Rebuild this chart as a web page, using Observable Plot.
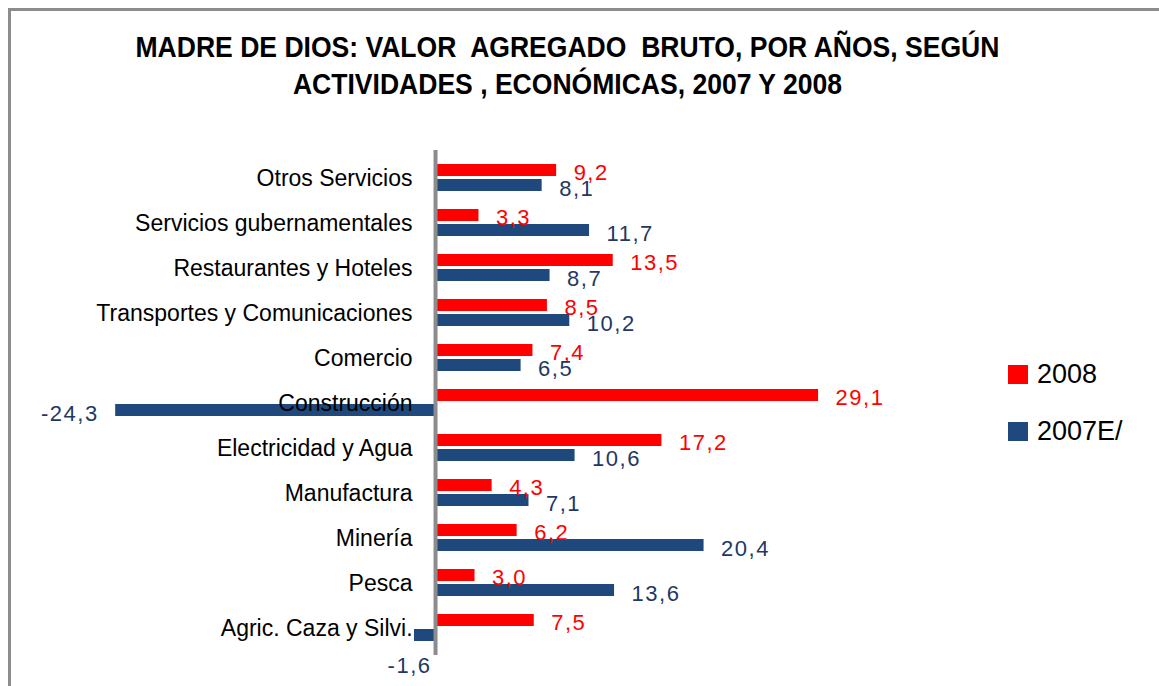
<!DOCTYPE html>
<html>
<head>
<meta charset="utf-8">
<script src="https://cdn.jsdelivr.net/npm/d3@7"></script>
<script src="https://cdn.jsdelivr.net/npm/@observablehq/plot@0.6"></script>
<style>
  html, body { margin: 0; padding: 0; background: #fff; }
  #wrap { position: relative; width: 1159px; height: 686px; overflow: hidden; font-family: "Liberation Sans", Arial, sans-serif; }
  #frame { position: absolute; left: 8px; top: 8px; width: 2000px; height: 2000px; border-left: 3px solid #8c8c8c; border-top: 3px solid #8c8c8c; box-sizing: border-box; }
  #title { position: absolute; left: 0; width: 1135px; top: 29px; text-align: center; font-weight: bold; font-size: 29px; line-height: 37px; color: #000; white-space: pre; transform: scaleX(0.915); transform-origin: 567px 0; }
  #chart { position: absolute; left: 0; top: 0; }
  #chart svg g[font-size="22"] text { letter-spacing: 1.5px; }
  .leg { position: absolute; left: 1008px; font-size: 27px; color: #000; display: flex; align-items: center; }
  .leg span.sw { display: inline-block; width: 20px; height: 19px; margin-right: 9px; }
</style>
</head>
<body>
<div id="wrap">
  <div id="frame"></div>
  <div id="chart"></div>
  <div id="title">MADRE DE DIOS: VALOR  AGREGADO  BRUTO, POR AÑOS, SEGÚN
ACTIVIDADES , ECONÓMICAS, 2007 Y 2008</div>
  <div class="leg" style="top:359px"><span class="sw" style="background:#FF0000"></span>2008</div>
  <div class="leg" style="top:416px"><span class="sw" style="background:#1F497D"></span>2007E/</div>
</div>
<script>
const categories = ["Otros Servicios","Servicios gubernamentales","Restaurantes y Hoteles","Transportes y Comunicaciones","Comercio","Construcción","Electricidad y Agua","Manufactura","Minería","Pesca","Agric. Caza y Silvi."];
const values2008 = [9.2, 3.3, 13.5, 8.5, 7.4, 29.1, 17.2, 4.3, 6.2, 3.0, 7.5];
const values2007 = [8.1, 11.7, 8.7, 10.2, 6.5, -24.3, 10.6, 7.1, 20.4, 13.6, -1.6];
const seriesNames = ["2008", "2007E/"];
const seriesColors = ["#FF0000", "#1F497D"];
const labelColors = ["#FF0000", "#1F3864"];

const rows2008 = categories.map((c, i) => ({cat: c, v: values2008[i]}));
const rows2007 = categories.map((c, i) => ({cat: c, v: values2007[i]}));
const fmt = v => v.toFixed(1).replace(".", ",");
const font = '"Liberation Sans", Arial, sans-serif';

const plot = Plot.plot({
  width: 1159,
  height: 686,
  marginLeft: 0,
  marginRight: 0,
  marginTop: 150,
  marginBottom: 31,
  style: {fontFamily: font, background: "transparent"},
  x: {domain: [-33.05, 55], axis: null},
  y: {domain: categories, paddingInner: 0.39, paddingOuter: 0.195, axis: null},
  marks: [
    Plot.barX(rows2008, {x1: 0, x2: "v", y: "cat", fill: seriesColors[0], insetBottom: 15}),
    Plot.barX(rows2007, {x1: 0, x2: "v", y: "cat", fill: seriesColors[1], insetTop: 15}),
    Plot.ruleX([0], {stroke: "#8c8c8c", strokeWidth: 4}),
    Plot.text(categories, {x: () => 0, y: d => d, dx: -23, dy: 1, textAnchor: "end", fontSize: 23, fill: "#000"}),
    Plot.text(rows2008, {x: "v", y: "cat", text: d => fmt(d.v), dx: 17, dy: -5, textAnchor: "start", fontSize: 22, fill: labelColors[0]}),
    Plot.text(rows2007.filter(d => d.v >= 0), {x: "v", y: "cat", text: d => fmt(d.v), dx: 17, dy: 11, textAnchor: "start", fontSize: 22, fill: labelColors[1]}),
    Plot.text(rows2007.filter(d => d.v < -5), {x: "v", y: "cat", text: d => fmt(d.v), dx: -17, dy: 11, textAnchor: "end", fontSize: 22, fill: labelColors[1]}),
    Plot.text(rows2007.filter(d => d.v < 0 && d.v >= -5), {x: () => 0, y: "cat", text: d => fmt(d.v), dx: -4, dy: 38, textAnchor: "end", fontSize: 22, fill: labelColors[1]})
  ]
});
document.getElementById("chart").appendChild(plot);
</script>
</body>
</html>
